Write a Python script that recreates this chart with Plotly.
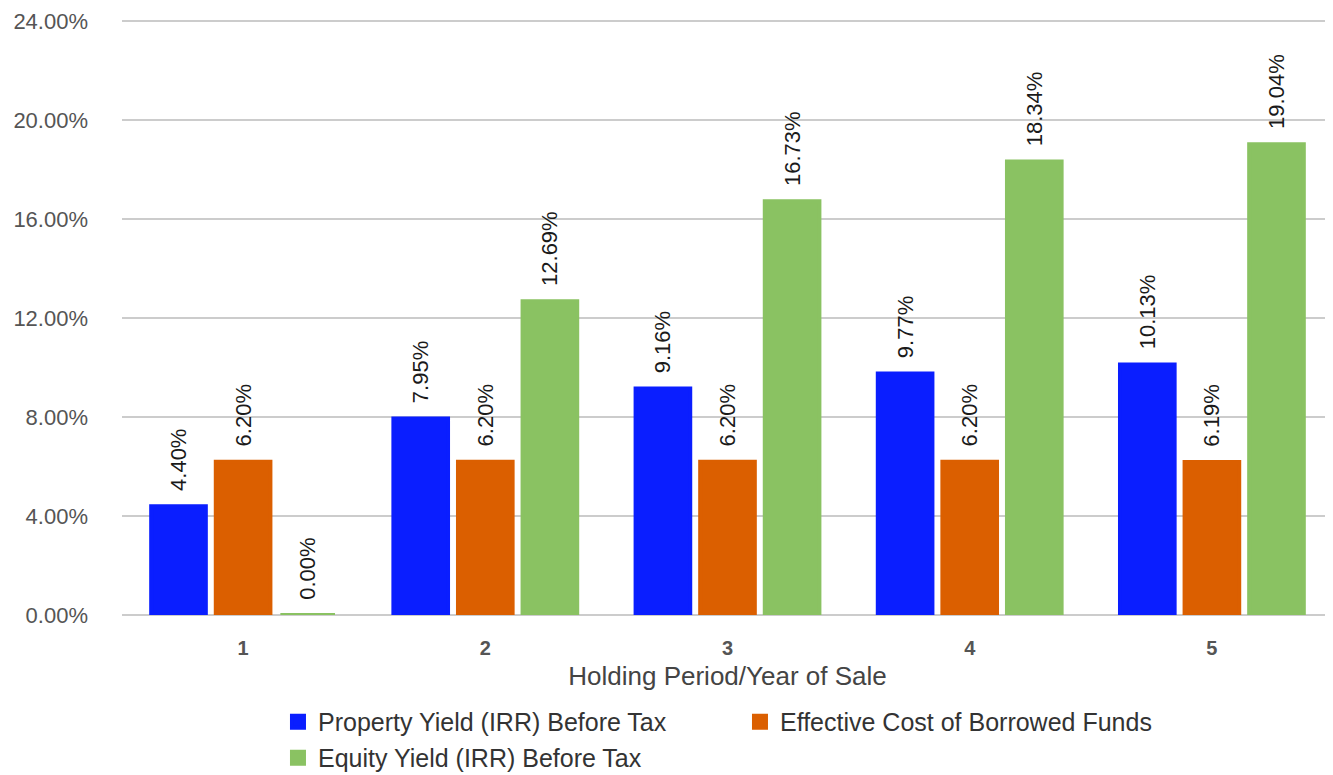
import plotly.graph_objects as go

categories = ["1", "2", "3", "4", "5"]
property_yield = [4.40, 7.95, 9.16, 9.77, 10.13]
cost_borrowed = [6.20, 6.20, 6.20, 6.20, 6.19]
equity_yield = [0.00, 12.69, 16.73, 18.34, 19.04]
tick_vals = [0, 4, 8, 12, 16, 20, 24]
tick_text = ["0.00%", "4.00%", "8.00%", "12.00%", "16.00%", "20.00%", "24.00%"]

series = [
    ("Property Yield (IRR) Before Tax", property_yield, "#0A1EFF", "legend"),
    ("Effective Cost of Borrowed Funds", cost_borrowed, "#DB5F00", "legend"),
    ("Equity Yield (IRR) Before Tax", equity_yield, "#8AC262", "legend2"),
]

FONT = "Liberation Sans, Arial, Helvetica, sans-serif"
NB = "\u00a0\u00a0"

fig = go.Figure()
for name, vals, color, leg in series:
    fig.add_trace(go.Bar(
        x=categories, y=vals, name=name, legend=leg,
        marker=dict(color=color, line=dict(color=color, width=4)),
        text=[f"{NB}{v:.2f}%" for v in vals],
        textposition="outside", textangle=-90, constraintext="none",
        textfont=dict(family=FONT, size=22, color="#1a1a1a"),
        cliponaxis=False,
    ))

legend_common = dict(
    orientation="h", xanchor="left", yanchor="middle",
    entrywidth=417, entrywidthmode="pixels",
    font=dict(family=FONT, size=25, color="#333"),
    bgcolor="rgba(0,0,0,0)", borderwidth=0,
)

fig.update_layout(
    width=1325, height=767,
    margin=dict(l=114, r=0, t=11, b=160, autoexpand=False),
    paper_bgcolor="white", plot_bgcolor="white",
    barmode="group", bargap=0.2, bargroupgap=0.154,
    font=dict(family=FONT, color="#555"),
    xaxis=dict(
        type="category", showgrid=False, showline=False, zeroline=False,
        tickfont=dict(family=FONT, size=20, color="#555", weight="bold"),
        title=dict(text="Holding Period/Year of Sale", font=dict(family=FONT, size=26, color="#444"), standoff=8),
        ticks="", ticklabelstandoff=19, automargin=False,
    ),
    yaxis=dict(
        range=[0, 24.1], tickvals=tick_vals, ticktext=tick_text,
        showgrid=True, gridcolor="#CCCCCC", gridwidth=2,
        zeroline=True, zerolinecolor="#CCCCCC", zerolinewidth=2,
        showline=False, tickfont=dict(family=FONT, size=22, color="#555"),
        ticks="", ticklabelstandoff=33, automargin=False,
    ),
    legend=dict(x=0.1288, y=-0.1795, **legend_common),
    legend2=dict(x=0.1288, y=-0.2399, **legend_common),
    showlegend=True,
)
fig.write_html("out.html")
